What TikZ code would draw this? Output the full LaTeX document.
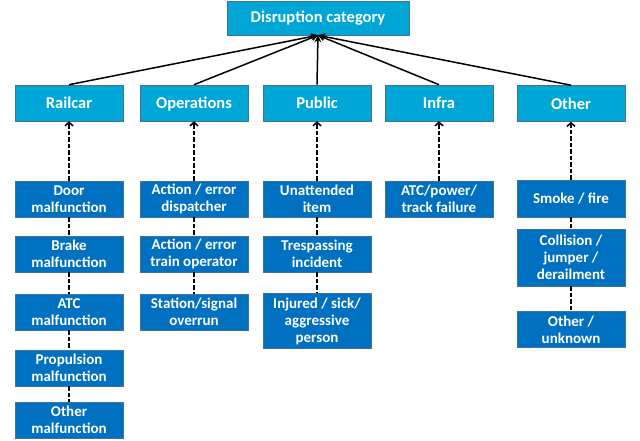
\documentclass[tikz,border=0pt]{standalone}
\usepackage{fontspec}
\setmainfont{Carlito}
\usetikzlibrary{arrows.meta}
\definecolor{catblue}{HTML}{00A6D6}
\definecolor{leafblue}{HTML}{0070C0}
\definecolor{edgeblue}{HTML}{41719C}
\begin{document}
\begin{tikzpicture}[x=1pt,y=-1pt,
  box/.style={draw=edgeblue, line width=0.6pt, text=white, align=center, inner sep=0pt, minimum width=108pt},
  cat/.style={box, fill=catblue, minimum height=36pt, text height=11.5pt, text depth=0pt, font=\fontsize{16.5}{19}\selectfont\bfseries},
  leaf/.style={box, fill=leafblue, minimum height=36pt, font=\fontsize{15}{17}\selectfont\bfseries},
  tall/.style={minimum height=55pt},
  link/.style={-{Stealth[length=7pt,width=7pt]}, line width=1.5pt},
  dep/.style={line width=1.6pt, dash pattern=on 4.5pt off 2pt},
  deparrow/.style={dep, -{Straight Barb[length=3.5pt,width=8pt]}}
]
\useasboundingbox (0,0) rectangle (640,441);

% root
\node[box, fill=catblue, minimum width=182pt, minimum height=34pt,
      font=\fontsize{16.5}{19}\selectfont\bfseries] (top) at (318,18) {Disruption category};

% categories
\node[cat] (railcar) at (69,103)  {Railcar};
\node[cat] (ops)     at (194,103) {Operations};
\node[cat] (public)  at (317,103) {Public};
\node[cat] (infra)   at (439,103) {Infra};
\node[cat] (other)   at (571,103.5) {Other};

\foreach \c in {railcar,ops,public,infra,other}
  \draw[link] (\c.north) -- (top.south);

% railcar causes
\node[leaf] (door)  at (69,199) {Door\\malfunction};
\node[leaf] (brake) at (69,254) {Brake\\malfunction};
\node[leaf] (atc)   at (69,312) {ATC\\malfunction};
\node[leaf] (prop)  at (69,368) {Propulsion\\malfunction};
\node[leaf] (othm)  at (69,420) {Other\\malfunction};

% operations causes
\node[leaf] (disp)  at (194,199) {Action / error\\dispatcher};
\node[leaf] (drv)   at (194,254) {Action / error\\train operator};
\node[leaf] (over)  at (194,312) {Station/signal\\overrun};

% public causes
\node[leaf] (item)  at (317,199) {Unattended\\item};
\node[leaf] (tresp) at (317,254) {Trespassing\\incident};
\node[leaf, tall] (inj) at (317,321) {Injured / sick/\\aggressive\\person};

% infra causes
\node[leaf] (trk)   at (439,199) {ATC/power/\\track failure};

% other causes
\node[leaf, minimum height=37pt] (fire) at (571,198.5) {Smoke / fire};
\node[leaf, minimum height=57pt] (coll) at (571,257.5) {Collision /\\jumper /\\derailment};
\node[leaf] (unk)   at (571,329.5) {Other /\\unknown};

% dashed links
\draw[deparrow] (door.north) -- (railcar.south);
\draw[dep] (door) -- (brake) (brake) -- (atc) (atc) -- (prop) (prop) -- (othm);
\draw[deparrow] (disp.north) -- (ops.south);
\draw[dep] (disp) -- (drv) (drv) -- (over);
\draw[deparrow] (item.north) -- (public.south);
\draw[dep] (item) -- (tresp) (tresp) -- (inj);
\draw[deparrow] (trk.north) -- (infra.south);
\draw[deparrow] (fire.north) -- (other.south);
\draw[dep] (fire) -- (coll) (coll) -- (unk);
\end{tikzpicture}
\end{document}
